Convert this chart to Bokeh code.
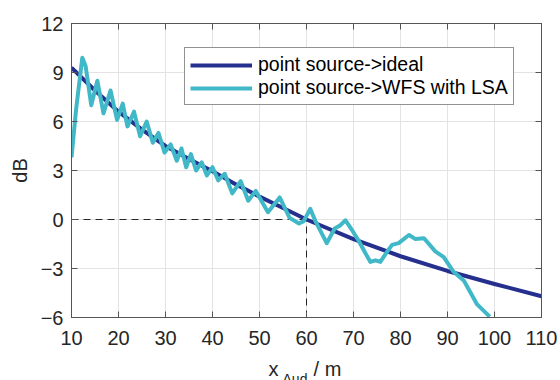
from bokeh.plotting import figure
from bokeh.layouts import column
from bokeh.models import Range1d, LinearAxis, FixedTicker, Legend, LegendItem
from bokeh.core.properties import value
from bokeh.embed import file_html
from bokeh.resources import INLINE

# ---- data ----
x_ideal = [10, 15, 20, 25, 30, 35, 40, 45, 50, 55, 60, 70, 80, 90, 100, 110]
db_ideal = [9.3, 7.9, 6.6, 5.5, 4.5, 3.7, 2.95, 2.15, 1.4, 0.7, 0.0, -1.2, -2.25, -3.15, -3.95, -4.7]

x_wfs = [10.0, 11.0, 12.3, 13.0, 14.2, 15.5, 16.8, 18.3, 19.7, 20.9, 21.9, 23.3, 24.6, 26.0,
         27.3, 28.5, 29.8, 31.1, 32.4, 33.4, 34.4, 35.4, 36.5, 37.7, 38.8, 40.0, 41.2, 42.6,
         44.2, 46.0, 47.6, 49.2, 51.8, 54.3, 56.4, 58.4, 59.4, 60.8, 61.9, 64.3, 66.0, 67.2,
         68.3, 69.8, 71.1, 72.6, 73.6, 74.7, 75.7, 77.2, 78.2, 79.6, 81.8, 83.2, 85.0, 87.4,
         89.2, 91.3, 93.5, 96.3, 99.0]
db_wfs = [3.8, 6.8, 9.9, 9.4, 7.0, 8.5, 6.5, 7.9, 6.1, 7.1, 5.7, 6.6, 5.1, 6.0,
          4.7, 5.3, 4.1, 4.6, 3.6, 4.35, 3.2, 4.0, 3.0, 3.5, 2.7, 3.2, 2.4, 2.8,
          1.6, 2.35, 1.15, 1.75, 0.45, 1.35, 0.1, -0.25, -0.1, 0.65, -0.1, -1.45, -0.55, -0.35,
          -0.05, -0.7, -1.3, -2.1, -2.6, -2.5, -2.6, -1.95, -1.55, -1.45, -0.95, -1.2, -1.15, -1.95,
          -2.3, -3.2, -3.75, -5.2, -5.95]

ref_x = 60
ref_db = 0

x_ticks = [10, 20, 30, 40, 50, 60, 70, 80, 90, 100, 110]
y_ticks = [-6, -3, 0, 3, 6, 9, 12]

FONT = "Liberation Sans"
TXT = "#262626"
AX = "#555555"

W = 560
BL, BR = 71, 19

p = figure(width=W, height=356, output_backend="svg", toolbar_location=None,
           x_range=Range1d(10, 110), y_range=Range1d(-6, 12),
           min_border_left=BL, min_border_right=BR, min_border_top=23, min_border_bottom=39)
p.background_fill_color = "white"
p.border_fill_color = "white"
p.outline_line_color = AX
p.outline_line_width = 1

def style_axis(ax, ticks, labels=True):
    ax.ticker = FixedTicker(ticks=ticks)
    ax.major_tick_in = 6
    ax.major_tick_out = 0
    ax.minor_tick_line_color = None
    ax.axis_line_color = AX
    ax.major_tick_line_color = AX
    if labels:
        ax.major_label_text_font = FONT
        ax.major_label_text_font_size = "20px"
        ax.major_label_text_color = TXT
    else:
        ax.major_label_text_font_size = "1px"
        ax.major_label_text_color = None
        ax.major_label_standoff = 0

style_axis(p.xaxis[0], x_ticks)
style_axis(p.yaxis[0], y_ticks)
p.xaxis[0].major_label_standoff = 13
p.yaxis[0].major_label_standoff = 8
p.yaxis[0].axis_label = "dB"
p.yaxis[0].axis_label_text_font = FONT
p.yaxis[0].axis_label_text_font_size = "20px"
p.yaxis[0].axis_label_text_font_style = "normal"
p.yaxis[0].axis_label_text_color = TXT
p.yaxis[0].axis_label_standoff = 7

top = LinearAxis()
style_axis(top, x_ticks, labels=False)
p.add_layout(top, "above")
right = LinearAxis()
style_axis(right, y_ticks, labels=False)
p.add_layout(right, "right")

p.xgrid.ticker = FixedTicker(ticks=x_ticks)
p.ygrid.ticker = FixedTicker(ticks=y_ticks)
p.xgrid.grid_line_color = "#e3e3e3"
p.ygrid.grid_line_color = "#e3e3e3"

# dashed reference lines
p.line([x_ideal[0], ref_x], [ref_db, ref_db], line_color=TXT, line_width=1, line_dash="7 5")
p.line([ref_x, ref_x], [y_ticks[0], ref_db], line_color=TXT, line_width=1, line_dash="7 5")

r1 = p.line(x_ideal, db_ideal, line_color="#25308e", line_width=4, line_join="round")
r2 = p.line(x_wfs, db_wfs, line_color="#41b8c7", line_width=4, line_join="round")

legend = Legend(items=[LegendItem(label="point source->ideal", renderers=[r1]),
                       LegendItem(label="point source->WFS with LSA", renderers=[r2])],
                location=(113, 212))
legend.label_text_font = FONT
legend.label_text_font_size = "19.5px"
legend.label_text_color = "black"
legend.glyph_width = 62
legend.glyph_height = 20
legend.label_height = 20
legend.label_standoff = 6
legend.spacing = 0
legend.padding = 5
legend.margin = 0
legend.border_line_color = TXT
legend.border_line_width = 1
legend.background_fill_alpha = 1
p.add_layout(legend)

# x-axis title strip below the plot: shares the plot's x scale (frames align in a column)
q = figure(width=W, height=24, output_backend="svg", toolbar_location=None,
           title=None, x_range=p.x_range, y_range=Range1d(0, 24),
           x_axis_type=None, y_axis_type=None,
           min_border_left=BL, min_border_right=BR, min_border_top=0, min_border_bottom=0)
q.outline_line_color = None
q.background_fill_color = "white"
q.border_fill_color = "white"
q.text(x=[51.9], y=[12], text=["x"], text_font=value(FONT), text_font_size="20px",
       text_color=TXT, text_align="left", text_baseline="alphabetic")
q.text(x=[54.9], y=[2], text=["Aud"], text_font=value(FONT), text_font_size="14px",
       text_color=TXT, text_align="left", text_baseline="alphabetic")
q.text(x=[61.5], y=[12], text=["/ m"], text_font=value(FONT), text_font_size="20px",
       text_color=TXT, text_align="left", text_baseline="alphabetic")

layout = column(p, q, spacing=0)
open("out.html", "w").write(file_html(layout, INLINE))
